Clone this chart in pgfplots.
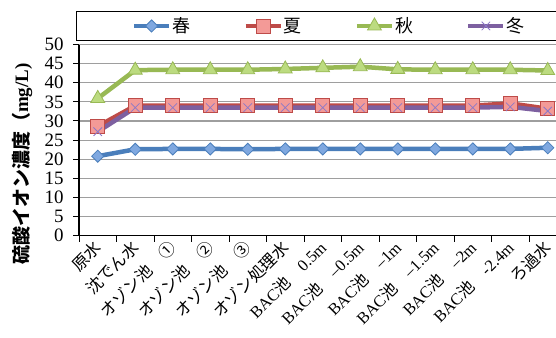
\documentclass[border=0pt]{standalone}
\usepackage{fontspec}
\setmainfont{Liberation Serif}
\newfontfamily\jp{Noto Sans CJK JP}
\usepackage{pgfplots}
\pgfplotsset{compat=1.18}
\definecolor{cA}{HTML}{4A7EBB}
\definecolor{cAf}{HTML}{7FA8E0}
\definecolor{cB}{HTML}{BE4B48}
\definecolor{cBf}{HTML}{F39A97}
\definecolor{cC}{HTML}{98B954}
\definecolor{cCf}{HTML}{BCDB80}
\definecolor{cD}{HTML}{7D60A0}
\definecolor{cDf}{HTML}{8C78C8}
\begin{document}
\begin{tikzpicture}
\draw[black, line width=0.9bp] (76bp,298bp) -- (620bp,298bp) -- (620bp,326.3bp) -- (76bp,326.3bp) -- cycle;
\begin{axis}[
 at={(79bp,102.3bp)}, anchor=south west, scale only axis,
 width=487.5bp, height=191.2bp,
 xmin=-0.5, xmax=12.5, ymin=0, ymax=50,
 axis x line*=bottom, axis y line*=left,
 axis line style={black, line width=1.3bp, -},
 ytick={0,5,...,50},
 ymajorgrids, grid style={draw=black!38, line width=1.2bp},
 tick align=outside, major tick length=6bp,
 tick style={black, line width=1bp},
 xtick={-0.5,0.5,...,12.5}, xticklabels={},
 extra x ticks={0,1,...,12},
 extra x tick style={major tick length=0pt, grid=none},
 extra x tick labels={{\jp 原水},{\jp 沈でん水},{\jp オゾン池　①},{\jp オゾン池　②},{\jp オゾン池　③},{\jp オゾン処理水},{BAC\jp 池　}0.5m,{BAC\jp 池　}--0.5m,{BAC\jp 池　}--1m,{BAC\jp 池　}--1.5m,{BAC\jp 池　}--2m,{BAC\jp 池　}-2.4m,{\jp ろ過水}},
 xticklabel style={font=\fontsize{16.5}{16.5}\selectfont, yshift=-8bp, xshift=1bp, rotate=45, anchor=east, inner sep=1bp},
 yticklabel style={font=\fontsize{19}{19}\selectfont, xshift=-6bp},
 /pgf/number format/assume math mode=true,
 ylabel={{\jp\bfseries 硫酸イオン濃度（}{\bfseries mg/L)}},
 ylabel style={at={(axis description cs:-0.117,0.375)}, anchor=center, font=\fontsize{19}{19}\selectfont},
 clip=false,
 legend columns=4,
 legend style={at={(axis description cs:0.108,1.097)}, anchor=west, draw=none, fill=none,
   font=\fontsize{18}{18}\selectfont, inner sep=0pt,
   nodes={inner sep=1bp, anchor=west},
   /tikz/every even column/.append style={column sep=52bp}},
 legend image code/.code={\draw[#1, mark repeat=2, mark phase=2] plot coordinates {(0bp,0bp) (17.5bp,0bp) (35bp,0bp)};},
]
\addplot[cA, line width=4.5bp, mark=square*, mark size=4.3bp, mark options={rotate=45, fill=cAf, draw=cA, line width=0.8bp}]
 coordinates {(0,20.8)(1,22.6)(2,22.7)(3,22.7)(4,22.6)(5,22.7)(6,22.7)(7,22.7)(8,22.7)(9,22.7)(10,22.7)(11,22.7)(12,23.0)};
\addlegendentry{\jp 春}
\addplot[cB, line width=4.5bp, mark=square*, mark size=7bp, mark options={fill=cBf, draw=cB, line width=0.8bp}]
 coordinates {(0,28.6)(1,34.0)(2,34.0)(3,34.0)(4,34.0)(5,34.0)(6,34.0)(7,34.0)(8,34.0)(9,34.0)(10,34.0)(11,34.6)(12,33.2)};
\addlegendentry{\jp 夏}
\addplot[cC, line width=4.5bp, mark=triangle*, mark size=8bp, mark options={fill=cCf, draw=cC, line width=0.8bp}]
 coordinates {(0,35.9)(1,43.3)(2,43.4)(3,43.4)(4,43.4)(5,43.6)(6,43.9)(7,44.2)(8,43.5)(9,43.4)(10,43.4)(11,43.4)(12,43.2)};
\addlegendentry{\jp 秋}
\addplot[cD, line width=4.5bp, mark=x, mark size=6bp, mark options={draw=cDf, line width=0.8bp}]
 coordinates {(0,27.2)(1,33.5)(2,33.5)(3,33.5)(4,33.5)(5,33.5)(6,33.5)(7,33.5)(8,33.5)(9,33.5)(10,33.5)(11,33.7)(12,32.6)};
\addlegendentry{\jp 冬}
\end{axis}
\pgfresetboundingbox
\path (0bp,0bp) rectangle (556bp,338bp);
\end{tikzpicture}
\end{document}
